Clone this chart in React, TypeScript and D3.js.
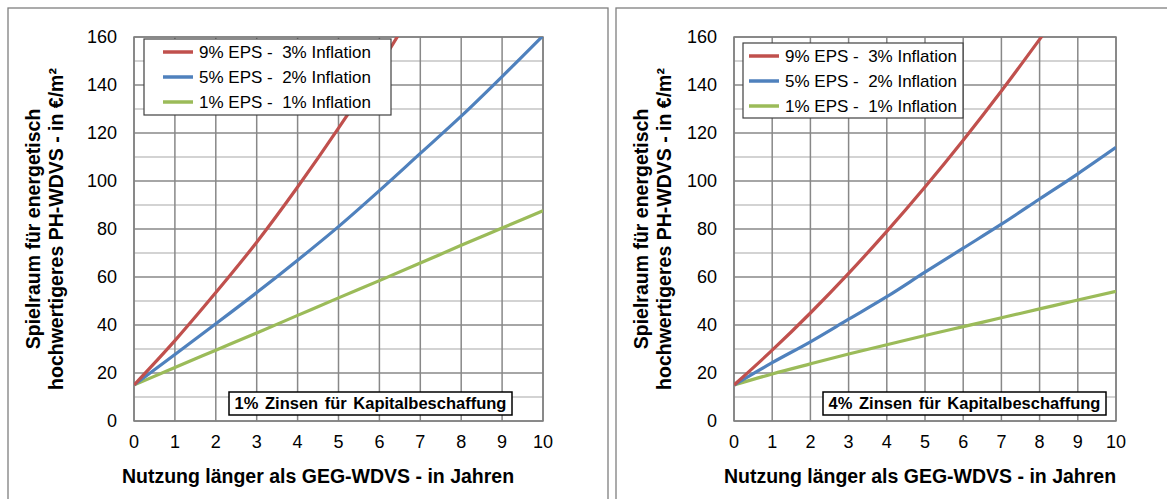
import React from "react";
import * as d3 from "d3";

const years = [0, 1, 2, 3, 4, 5, 6, 7, 8, 9, 10];
const seriesLabels = ["9% EPS -  3% Inflation", "5% EPS -  2% Inflation", "1% EPS -  1% Inflation"];
const seriesColors = ["#C0504D", "#4F81BD", "#9BBB59"];

// Panel 1: 1% Zinsen
const left9 = [15, 33.5, 53.5, 74.5, 97.5, 122, 148, 176];
const left5 = [15, 27.7, 40.5, 53.5, 67, 81, 96, 111.5, 127, 143.5, 160.5];
const left1 = [15, 22.3, 29.5, 36.7, 44, 51.3, 58.5, 65.8, 73.2, 80.4, 87.6];
// Panel 2: 4% Zinsen
const right9 = [15, 29.5, 45, 61.5, 79, 97.5, 117, 137.5, 159, 181];
const right5 = [15, 24.3, 33, 42.4, 51.8, 62, 72, 82, 92.5, 103, 114];
const right1 = [15, 19.6, 23.8, 27.9, 31.8, 35.6, 39.3, 43, 46.7, 50.4, 54];

const yTicks = [0, 20, 40, 60, 80, 100, 120, 140, 160];
const yMinor = [10, 30, 50, 70, 90, 110, 130, 150];
const xTitle = "Nutzung länger als GEG-WDVS - in Jahren";
const yTitle1 = "Spielraum für energetisch";
const yTitle2 = "hochwertigeres PH-WDVS - in €/m²";
const notes = ["1% Zinsen für Kapitalbeschaffung", "4% Zinsen für Kapitalbeschaffung"];

const FONT = "Arial, 'Liberation Sans', sans-serif";

type PanelProps = {
  id: string;
  frameX: number;
  x0: number;
  x1: number;
  series: number[][];
  legend: { x: number; y: number; w: number; h: number; pad: number };
  note: { x: number; w: number; text: string };
  xTitleX: number;
  yTitleX1: number;
  yTitleX2: number;
  tickRight: number;
};

function Panel(p: PanelProps) {
  const x = d3.scaleLinear().domain([0, 10]).range([p.x0, p.x1]);
  const y = d3.scaleLinear().domain([0, 160]).range([421, 37]);
  const line = d3
    .line<number>()
    .x((_, i) => x(years[i]))
    .y((d) => y(d))
    .curve(d3.curveMonotoneX);
  const midY = (y(0) + y(160)) / 2;
  return (
    <g>
      <rect x={p.frameX} y={8} width={600} height={520} fill="#fff" stroke="#7f7f7f" strokeWidth={1.3} />
      <clipPath id={p.id}>
        <rect x={p.x0} y={y(160)} width={p.x1 - p.x0} height={y(0) - y(160)} />
      </clipPath>
      {yMinor.map((v) => (
        <line key={"m" + v} x1={p.x0} x2={p.x1} y1={y(v)} y2={y(v)} stroke="#c4c4c4" strokeWidth={1.5} />
      ))}
      {yTicks.map((v) => (
        <line key={"M" + v} x1={p.x0} x2={p.x1} y1={y(v)} y2={y(v)} stroke="#888" strokeWidth={1.5} />
      ))}
      {years.map((v) => (
        <line key={"v" + v} x1={x(v)} x2={x(v)} y1={y(0)} y2={y(160)} stroke="#888" strokeWidth={1.5} />
      ))}
      <rect x={p.x0} y={y(160)} width={p.x1 - p.x0} height={y(0) - y(160)} fill="none" stroke="#808080" strokeWidth={1.5} />
      {yTicks.map((v) => (
        <text key={"t" + v} x={p.tickRight} y={y(v)} dy="0.36em" textAnchor="end" fontSize={18} fontFamily={FONT} fill="#000">
          {v}
        </text>
      ))}
      {years.map((v) => (
        <text key={"xt" + v} x={x(v)} y={448} textAnchor="middle" fontSize={18} fontFamily={FONT} fill="#000">
          {v}
        </text>
      ))}
      <g clipPath={`url(#${p.id})`}>
        {p.series
          .map((s, i) => ({ s, i }))
          .reverse()
          .map(({ s, i }) => (
            <path key={"s" + i} d={line(s) || ""} fill="none" stroke={seriesColors[i]} strokeWidth={3.2} />
          ))}
      </g>
      <rect x={p.legend.x} y={p.legend.y} width={p.legend.w} height={p.legend.h} fill="#fff" stroke="#404040" strokeWidth={1.2} />
      {seriesLabels.map((lab, i) => {
        const cy = p.legend.y + 13 + i * 25;
        const lx = p.legend.x + p.legend.pad;
        return (
          <g key={"l" + i}>
            <line x1={lx} x2={lx + 30} y1={cy} y2={cy} stroke={seriesColors[i]} strokeWidth={3.5} />
            <text x={lx + 36} y={cy} dy="0.36em" fontSize={17} fontFamily={FONT} style={{ whiteSpace: "pre" }}>
              {lab}
            </text>
          </g>
        );
      })}
      <rect x={p.note.x} y={392} width={p.note.w} height={23} fill="#fff" stroke="#000" strokeWidth={1.5} />
      <text x={p.note.x + p.note.w / 2} y={409} textAnchor="middle" fontSize={16.5} fontWeight="bold" fontFamily={FONT} wordSpacing={2}>
        {p.note.text}
      </text>
      <text x={p.xTitleX} y={483} textAnchor="middle" fontSize={19.5} fontWeight="bold" fontFamily={FONT}>
        {xTitle}
      </text>
      <text transform={`translate(${p.yTitleX1},${midY}) rotate(-90)`} textAnchor="middle" dy="0.36em" fontSize={19.5} fontWeight="bold" fontFamily={FONT}>
        {yTitle1}
      </text>
      <text transform={`translate(${p.yTitleX2},${midY}) rotate(-90)`} textAnchor="middle" dy="0.36em" fontSize={19.5} fontWeight="bold" fontFamily={FONT}>
        {yTitle2}
      </text>
    </g>
  );
}

export default function App() {
  return (
    <svg width={1167} height={499} style={{ position: "absolute", left: 0, top: 0, background: "#fff" }}>
      <rect x={0} y={0} width={1167} height={499} fill="#fff" />
      <Panel
        id="clipL"
        frameX={8}
        x0={134}
        x1={543}
        series={[left9, left5, left1]}
        legend={{ x: 144, y: 39, w: 247, h: 76, pad: 19 }}
        note={{ x: 229, w: 283, text: notes[0] }}
        xTitleX={318}
        yTitleX1={33}
        yTitleX2={56}
        tickRight={117}
      />
      <Panel
        id="clipR"
        frameX={616}
        x0={734}
        x1={1116}
        series={[right9, right5, right1]}
        legend={{ x: 743, y: 43, w: 220, h: 75, pad: 6 }}
        note={{ x: 823, w: 283, text: notes[1] }}
        xTitleX={920}
        yTitleX1={641}
        yTitleX2={664}
        tickRight={717}
      />
    </svg>
  );
}
